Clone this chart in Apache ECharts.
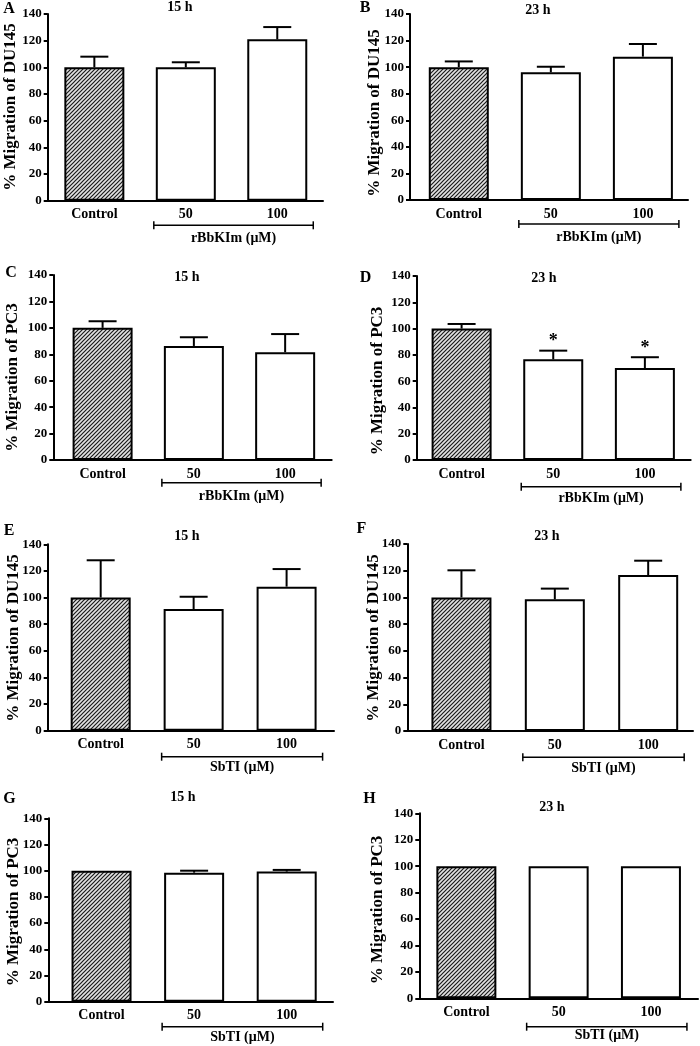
<!DOCTYPE html>
<html><head><meta charset="utf-8">
<script src="https://cdn.jsdelivr.net/npm/echarts@6/dist/echarts.min.js"></script>
<style>html,body{margin:0;padding:0;background:#fff}#c{width:700px;height:1046px}</style>
</head><body><div id="c"></div>
<script>
// ---- data ----
const categories = ['Control', '50', '100'];
const yTicks = [0, 20, 40, 60, 80, 100, 120, 140];
const titles = ['15 h', '23 h'];
const yNameDU = '% Migration of DU145';
const yNamePC = '% Migration of PC3';
const groupR = 'rBbKIm (μM)';
const groupS = 'SbTI (μM)';

const meanA = [100, 100, 121];   const errA = [8, 3.8, 9.2];
const meanB = [100, 96.1, 107.9]; const errB = [4.3, 4.2, 9.5];
const meanC = [100, 86.3, 81.5]; const errC = [5, 6.6, 13.8];
const meanD = [100, 76.6, 70];   const errD = [3.5, 6.6, 8.2];
const sigD  = ['', '*', '*'];
const meanE = [100, 91.4, 108.2]; const errE = [28, 9.2, 13.2];
const meanF = [100, 98.6, 116.8]; const errF = [20.3, 8, 10.7];
const meanG = [100, 98.5, 99.3]; const errG = [0, 1.5, 1.3];
const meanH = [100, 100, 100];   const errH = [0, 0, 0];

// ---- layout ----
const FONT = '"Liberation Serif", "Times New Roman", serif';
const panels = [
  {L:'A', t:titles[0], yn:yNameDU, g:groupR, mean:meanA, err:errA, grid:[47.7,14,275.3,186.7], xr:[-0.51,2.5], letter:[9,8.5], title:[180,7.5], yname:[11,107], bdy:24.6, ldy:12.7},
  {L:'B', t:titles[1], yn:yNameDU, g:groupR, mean:meanB, err:errB, grid:[410,14,278,186], xr:[-0.53,2.49], letter:[365,8], title:[538,10], yname:[374.5,113], bdy:24, ldy:13},
  {L:'C', t:titles[0], yn:yNamePC, g:groupR, mean:meanC, err:errC, grid:[53.3,275,278.4,185], xr:[-0.54,2.51], letter:[11,273], title:[187,277], yname:[12.5,377.5], bdy:22.7, ldy:14},
  {L:'D', t:titles[1], yn:yNamePC, g:groupR, mean:meanD, err:errD, sig:sigD, grid:[416.7,276,274,184], xr:[-0.49,2.5], letter:[365.5,278], title:[544,278.5], yname:[377.5,381], bdy:26.7, ldy:11.3},
  {L:'E', t:titles[0], yn:yNameDU, g:groupS, mean:meanE, err:errE, grid:[47.7,544.3,286.3,186.4], xr:[-0.57,2.51], letter:[9,530.5], title:[187,536], yname:[14,638], bdy:26, ldy:10.5},
  {L:'F', t:titles[1], yn:yNameDU, g:groupS, mean:meanF, err:errF, grid:[407.3,544,285.7,187], xr:[-0.58,2.48], letter:[361.5,529], title:[547,536.5], yname:[374,638], bdy:26.3, ldy:10.7},
  {L:'G', t:titles[0], yn:yNamePC, g:groupS, mean:meanG, err:errG, grid:[48.3,818.3,284.7,183.4], xr:[-0.575,2.5], letter:[9.5,799], title:[183,797], yname:[14,912], bdy:25, ldy:10.3},
  {L:'H', t:titles[1], yn:yNamePC, g:groupS, mean:meanH, err:errH, grid:[419.3,813.3,278.7,185], xr:[-0.51,2.51], letter:[369.5,798.5], title:[552,807], yname:[377.5,910], bdy:28.4, ldy:8.3}
];

function hatch() {
  const c = document.createElement('canvas');
  c.width = c.height = 4;
  const g = c.getContext('2d');
  g.fillStyle = '#e2e2e2'; g.fillRect(0, 0, 4, 4);
  g.strokeStyle = '#1a1a1a'; g.lineWidth = 1.2;
  g.beginPath();
  g.moveTo(-1, 5); g.lineTo(5, -1);
  g.moveTo(-1, 1); g.lineTo(1, -1);
  g.moveTo(3, 5); g.lineTo(5, 3);
  g.stroke();
  return c;
}
const hatchPattern = { image: hatch(), repeat: 'repeat' };

const grids = [], xAxes = [], yAxes = [], series = [], graphics = [];
panels.forEach((p, k) => {
  grids.push({left: p.grid[0], top: p.grid[1], width: p.grid[2], height: p.grid[3], containLabel: false, outerBoundsMode: 'none'});
  xAxes.push({
    gridIndex: k, type: 'value', min: p.xr[0], max: p.xr[1],
    axisLine: {show: true, onZero: false, lineStyle: {color: '#000', width: 2}},
    axisTick: {show: false}, splitLine: {show: false},
    axisLabel: {customValues: [0, 1, 2], formatter: v => categories[Math.round(v)] || '',
      margin: 7, color: '#000', fontFamily: FONT, fontWeight: 'bold', fontSize: 14}
  });
  yAxes.push({
    gridIndex: k, type: 'value', min: yTicks[0], max: yTicks[yTicks.length - 1], interval: yTicks[1] - yTicks[0],
    axisLine: {show: true, onZero: false, lineStyle: {color: '#000', width: 2}},
    axisTick: {show: true, length: 4, lineStyle: {color: '#000', width: 2}},
    splitLine: {show: false},
    axisLabel: {margin: 6, color: '#000', fontFamily: FONT, fontWeight: 'bold', fontSize: 13}
  });
  series.push({
    type: 'bar', xAxisIndex: k, yAxisIndex: k, barWidth: 60, z: 2,
    itemStyle: {color: '#fff', borderColor: '#000', borderWidth: 2},
    data: p.mean.map((v, i) => i === 0 ? {value: [i, v], itemStyle: {color: hatchPattern}} : {value: [i, v]})
  });
  series.push({
    type: 'custom', xAxisIndex: k, yAxisIndex: k, z: 4, clip: false,
    data: p.mean.map((v, i) => [i, v, p.err[i]]),
    renderItem: (params, api) => {
      const i = params.dataIndex;
      const x = api.value(0), m = api.value(1), e = api.value(2);
      const base = api.coord([x, m]), top = api.coord([x, m + e]);
      const ch = [];
      if (e > 0) {
        ch.push({type: 'line', shape: {x1: base[0], y1: base[1], x2: top[0], y2: top[1]}, style: {stroke: '#000', lineWidth: 2}});
        ch.push({type: 'line', shape: {x1: top[0] - 14, y1: top[1], x2: top[0] + 14, y2: top[1]}, style: {stroke: '#000', lineWidth: 2}});
      }
      if (p.sig && p.sig[i]) {
        ch.push({type: 'text', x: top[0], y: top[1] - 9, style: {text: p.sig[i], fill: '#000', font: 'bold 18px ' + FONT, align: 'center', verticalAlign: 'middle', textAlign: 'center', textVerticalAlign: 'middle'}});
      }
      return {type: 'group', children: ch};
    }
  });
  series.push({
    type: 'custom', xAxisIndex: k, yAxisIndex: k, z: 4, clip: false, silent: true,
    data: [[1, 0]],
    renderItem: (params, api) => {
      const a = api.coord([1, 0]), b = api.coord([2, 0]);
      const y = a[1] + p.bdy, xl = a[0] - 32, xr = b[0] + 36;
      return {type: 'group', children: [
        {type: 'line', shape: {x1: xl, y1: y, x2: xr, y2: y}, style: {stroke: '#000', lineWidth: 1.5}},
        {type: 'line', shape: {x1: xl, y1: y - 4, x2: xl, y2: y + 4}, style: {stroke: '#000', lineWidth: 1.5}},
        {type: 'line', shape: {x1: xr, y1: y - 4, x2: xr, y2: y + 4}, style: {stroke: '#000', lineWidth: 1.5}},
        {type: 'text', x: (xl + xr) / 2, y: y + p.ldy, style: {text: p.g, fill: '#000', font: 'bold 14px ' + FONT, align: 'center', verticalAlign: 'middle', textAlign: 'center', textVerticalAlign: 'middle'}}
      ]};
    }
  });
  const ts = (txt, size) => ({text: txt, fill: '#000', font: 'bold ' + size + 'px ' + FONT, align: 'center', verticalAlign: 'middle', textAlign: 'center', textVerticalAlign: 'middle'});
  graphics.push({type: 'text', x: p.letter[0], y: p.letter[1], style: ts(p.L, 16)});
  graphics.push({type: 'text', x: p.title[0], y: p.title[1], style: ts(p.t, 14)});
  graphics.push({type: 'text', x: p.yname[0], y: p.yname[1], rotation: Math.PI / 2, style: ts(p.yn, 17)});
});

const chart = echarts.init(document.getElementById('c'), null, {renderer: 'canvas'});
chart.setOption({
  backgroundColor: '#fff',
  animation: false,
  grid: grids, xAxis: xAxes, yAxis: yAxes, series: series, graphic: graphics
});
</script>
</body></html>
